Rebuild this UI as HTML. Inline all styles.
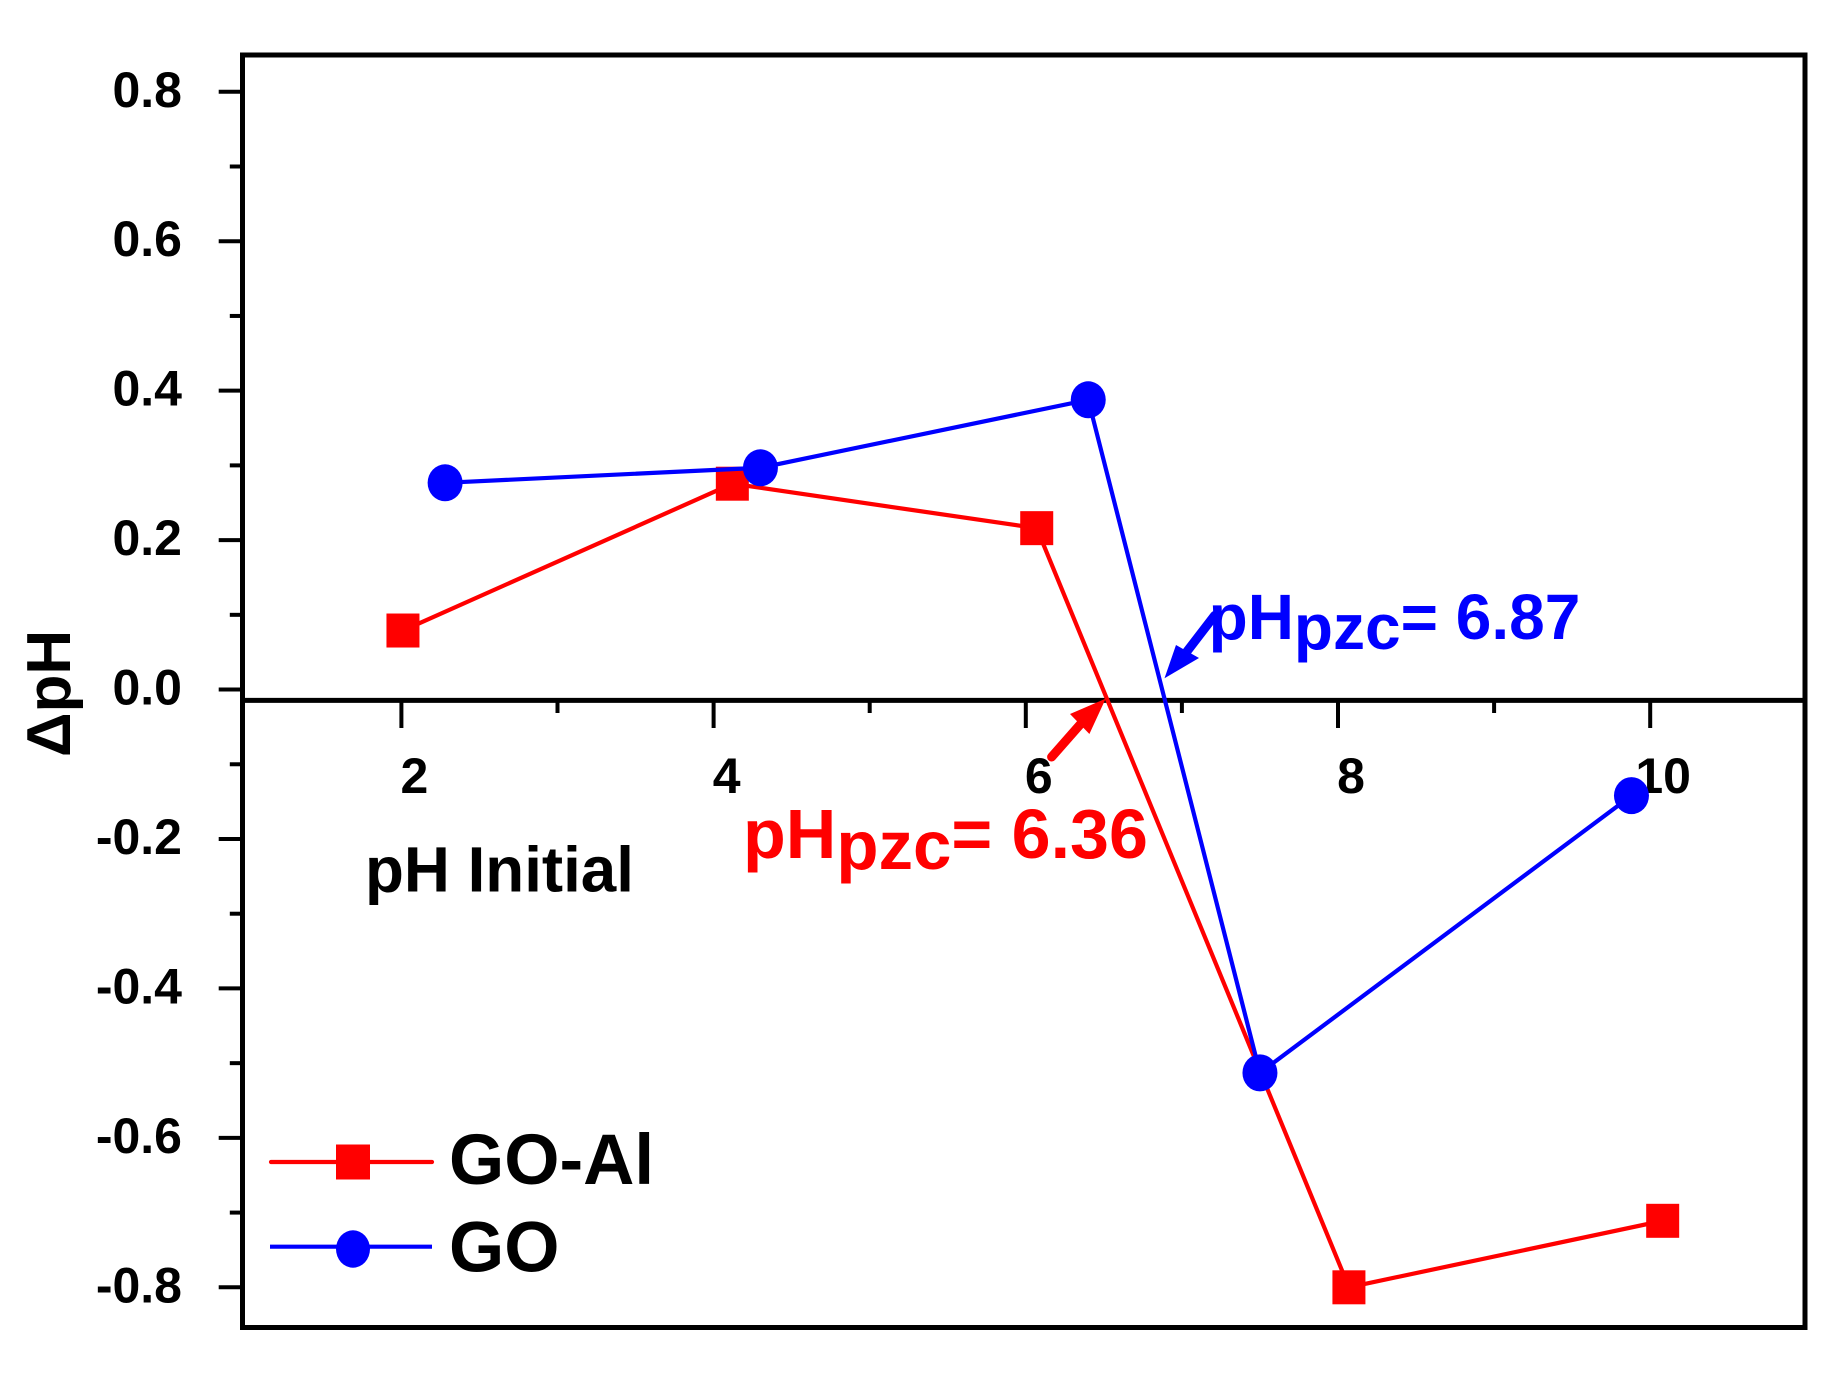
<!DOCTYPE html>
<html lang="en">
<head>
<meta charset="utf-8">
<title>Delta pH vs initial pH</title>
<style>
  html, body { margin: 0; padding: 0; background: #fff; }
  svg { display: block; }
  text { font-family: "Liberation Sans", Arial, sans-serif; font-weight: bold; }
</style>
</head>
<body>
<svg id="chart" xmlns="http://www.w3.org/2000/svg" width="1824" height="1384" viewBox="0 0 1824 1384">
  <rect x="0" y="0" width="1824" height="1384" fill="#fff"/>
  <g id="ticks"></g>
  <g id="tick-labels"></g>
  <rect x="242.5" y="55" width="1562.5" height="1272.5" fill="none" stroke="#000" stroke-width="5"/>
  <line x1="242.5" x2="1805" y1="700.4" y2="700.4" stroke="#000" stroke-width="5"/>
  <g id="series"></g>

  <text transform="translate(70 757) rotate(-90)" font-size="62" fill="#000">ΔpH</text>
  <text x="365" y="891.5" font-size="63.7" fill="#000">pH Initial</text>

  <text x="743" y="858" font-size="70" fill="#f00">pH<tspan dy="11" font-size="69">pzc</tspan><tspan dy="-11">= 6.36</tspan></text>
  <g>
    <line x1="1051.6" y1="757" x2="1085" y2="719" stroke="#f00" stroke-width="9" stroke-linecap="round"/>
    <polygon points="1105.7,698.6 1070,714 1089.4,734" fill="#f00"/>
  </g>

  <text x="1208.6" y="639" font-size="64" fill="#00f">pH<tspan dy="10">pzc</tspan><tspan dy="-10">= 6.87</tspan></text>
  <g>
    <line x1="1214.5" y1="615.6" x2="1185" y2="654" stroke="#00f" stroke-width="9" stroke-linecap="round"/>
    <polygon points="1164.5,678.3 1176,645 1199,658" fill="#00f"/>
  </g>

  <g>
    <g>
      <line x1="271" x2="432" y1="1162" y2="1162" stroke="#f00" stroke-width="4.2" stroke-linecap="round"/>
      <rect x="336" y="1144.5" width="34" height="35" fill="#f00"/>
      <text x="449" y="1184" font-size="71" fill="#000">GO-Al</text>
    </g>
    <g>
      <line x1="270" x2="432" y1="1246.7" y2="1246.7" stroke="#00f" stroke-width="4.2"/>
      <ellipse cx="353" cy="1249" rx="17" ry="18.7" fill="#00f"/>
      <text x="449" y="1271.4" font-size="71" fill="#000">GO</text>
    </g>
  </g>
</svg>
<script>
// Chart data
const xMajorTicks = [2, 4, 6, 8, 10];
const xMinorTicks = [3, 5, 7, 9];
const xTickLabels = ['2', '4', '6', '8', '10'];
const yMajorTicks = [0.8, 0.6, 0.4, 0.2, 0, -0.2, -0.4, -0.6, -0.8];
const yMinorTicks = [0.7, 0.5, 0.3, 0.1, -0.1, -0.3, -0.5, -0.7];
const yTickLabels = ['0.8', '0.6', '0.4', '0.2', '0.0', '-0.2', '-0.4', '-0.6', '-0.8'];
const goAlPH = [2.01, 4.12, 6.07, 8.07, 10.08];
const goAlDelta = [0.079, 0.2755, 0.216, -0.80, -0.711];
const goPH = [2.28, 4.30, 6.40, 7.50, 9.88];
const goDelta = [0.2767, 0.2968, 0.3878, -0.513, -0.142];

// Axis functions
function xScale(v) { return 401.4 + (v - 2) * 156.1; }
function yScale(v) { return 689.55 - v * 747.2; }

const NS = 'http://www.w3.org/2000/svg';
function make(tag, attrs, parent) {
  const el = document.createElementNS(NS, tag);
  for (const k in attrs) el.setAttribute(k, attrs[k]);
  parent.appendChild(el);
  return el;
}
const ticksG = document.getElementById('ticks');
const labelsG = document.getElementById('tick-labels');
const seriesG = document.getElementById('series');
const AXIS_Y = 700.4;
const AXIS_X = 242.5;

xMajorTicks.forEach(function (v, i) {
  const t = make('line', { x1: xScale(v), x2: xScale(v), y1: AXIS_Y, y2: 728, stroke: '#000', 'stroke-width': 4 }, ticksG);
  
  
  const l = make('text', { x: xScale(v) + 13, y: 793, 'text-anchor': 'middle', 'font-size': 50, fill: '#000' }, labelsG);
  
  
  l.textContent = xTickLabels[i];
});
xMinorTicks.forEach(function (v) {
  const t = make('line', { x1: xScale(v), x2: xScale(v), y1: AXIS_Y, y2: 713, stroke: '#000', 'stroke-width': 4 }, ticksG);
  
  
});
yMajorTicks.forEach(function (v, i) {
  const t = make('line', { x1: 218.7, x2: AXIS_X, y1: yScale(v), y2: yScale(v), stroke: '#000', 'stroke-width': 4 }, ticksG);
  
  
  const l = make('text', { x: 182, y: yScale(v) + 15, 'text-anchor': 'end', 'font-size': 50, fill: '#000' }, labelsG);
  
  
  l.textContent = yTickLabels[i];
});
yMinorTicks.forEach(function (v) {
  const t = make('line', { x1: 229.8, x2: AXIS_X, y1: yScale(v), y2: yScale(v), stroke: '#000', 'stroke-width': 4 }, ticksG);
  
  
});

function pointsAttr(xs, ys) {
  return xs.map(function (x, i) { return xScale(x) + ',' + yScale(ys[i]); }).join(' ');
}

const goAlLine = make('polyline', { points: pointsAttr(goAlPH, goAlDelta), fill: 'none', stroke: '#f00', 'stroke-width': 4.2 }, seriesG);


goAlPH.forEach(function (x, i) {
  const m = make('rect', { x: xScale(x) - 16.5, y: yScale(goAlDelta[i]) - 17, width: 33, height: 34, fill: '#f00' }, seriesG);
  
  
});

const goLine = make('polyline', { points: pointsAttr(goPH, goDelta), fill: 'none', stroke: '#00f', 'stroke-width': 4.2 }, seriesG);


goPH.forEach(function (x, i) {
  const m = make('ellipse', { cx: xScale(x), cy: yScale(goDelta[i]), rx: 17.5, ry: 18.5, fill: '#00f' }, seriesG);
  
  
});
</script>
</body>
</html>
